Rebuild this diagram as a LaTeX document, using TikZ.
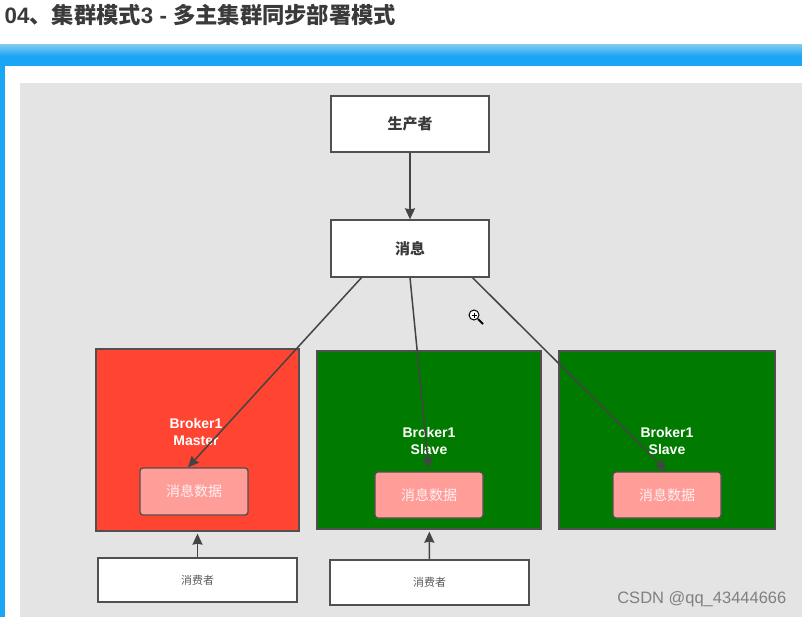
\documentclass[tikz,border=0pt]{standalone}
\usepackage{fontspec}
\setmainfont{Liberation Sans}
\newfontfamily\cjk{Noto Sans CJK SC}
\usetikzlibrary{arrows.meta}
\definecolor{framec}{HTML}{1BA5F5}
\definecolor{framelt}{HTML}{7CC8F0}
\definecolor{panelc}{HTML}{E4E4E4}
\definecolor{edgec}{HTML}{505050}
\definecolor{redc}{HTML}{FF4431}
\definecolor{greenc}{HTML}{007B00}
\definecolor{pinkc}{HTML}{FF9E99}
\definecolor{textc}{HTML}{3A3A3A}
\begin{document}
\begin{tikzpicture}[x=1pt, y=-1pt, line width=1.3pt,
  whitebox/.style={draw=edgec, fill=white, text=textc, inner sep=0pt, font=\cjk\bfseries\fontsize{15}{18}\selectfont},
  userbox/.style={whitebox, text=black!65, font=\cjk\fontsize{11}{13}\selectfont},
  brokerbox/.style={draw=edgec, inner sep=0pt, text=white, align=center, font=\bfseries\fontsize{14}{17}\selectfont},
  databox/.style={draw=edgec, fill=pinkc, rounded corners=3pt, inner sep=0pt, text=white!85!pinkc, font=\cjk\fontsize{14}{17}\selectfont},
  flow/.style={draw=edgec!85!black, line width=1.5pt, -{Stealth[length=11pt, width=10pt, inset=1pt]}}]

  \useasboundingbox (0, 0) rectangle (802, 617);
  \fill[white] (0, 0) rectangle (802, 617);

  % title and window frame
  \node[anchor=west, inner sep=0pt, text=textc, font=\bfseries\fontsize{22.3}{26}\selectfont] (title) at (4, 15)
    {04{\cjk 、集群模式}3 - {\cjk 多主集群同步部署模式}};
  \shade[top color=framelt, bottom color=framec] (0, 45) rectangle (802, 56);
  \fill[framec] (0, 56) rectangle (802, 66);
  \fill[framec] (0, 66) rectangle (5, 617);
  \fill[panelc] (20, 83) rectangle (802, 617);

  % top boxes
  \node[whitebox, minimum width=158pt, minimum height=56pt] (producer) at (410, 124) {生产者};
  \node[whitebox, minimum width=158pt, minimum height=57pt] (message) at (410, 248.5) {消息};

  % brokers, text is set above the data box
  \node[brokerbox, fill=redc, minimum width=203pt, minimum height=182pt] (master) at (197.5, 440) {};
  \node[brokerbox, fill=greenc, minimum width=224pt, minimum height=178pt] (slavea) at (429, 440) {};
  \node[brokerbox, fill=greenc, minimum width=216pt, minimum height=178pt] (slaveb) at (667, 440) {};
  \node[brokerbox, draw=none] (mastertxt) at (196, 432) {Broker1\\Master};
  \node[brokerbox, draw=none] (slaveatxt) at (429, 440.5) {Broker1\\Slave};
  \node[brokerbox, draw=none] (slavebtxt) at (667, 440.5) {Broker1\\Slave};

  \node[databox, minimum width=108pt, minimum height=47pt] (dataa) at (194, 491.5) {消息数据};
  \node[databox, minimum width=108pt, minimum height=46pt] (datab) at (429, 495) {消息数据};
  \node[databox, minimum width=108pt, minimum height=46pt] (datac) at (667, 495) {消息数据};

  % consumers
  \node[userbox, minimum width=199pt, minimum height=44pt] (consumera) at (197.5, 580) {消费者};
  \node[userbox, minimum width=199pt, minimum height=45pt] (consumerb) at (429.5, 582.5) {消费者};

  \draw[flow] (producer) -- (message);
  \draw[flow] (message.-149) -- (dataa.104);
  \draw[flow, shorten >=3pt] (message.south) -- (datab.north);
  \draw[flow, shorten >=1pt] (message.-25) -- (datac.north);
  \draw[flow, shorten >=2pt] (consumera) -- (master);
  \draw[flow, shorten >=2pt] (consumerb) -- (slavea);

  % zoom cursor
  \draw[black, line width=1pt, fill=white] (474, 315) circle (5pt);
  \draw[black, line width=1pt] (471.5, 315) -- (476.5, 315) (474, 312.5) -- (474, 317.5);
  \draw[black, line width=2pt] (478, 319) -- (483, 324);

  \node[anchor=east, inner sep=0pt, text=black!50, font=\fontsize{16.5}{19}\selectfont] (mark) at (787, 599) {CSDN @qq\_43444666};
\end{tikzpicture}
\end{document}
